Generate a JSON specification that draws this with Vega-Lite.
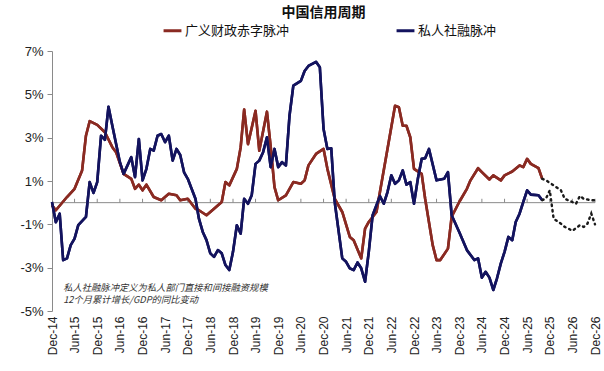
{
  "$schema": "https://vega.github.io/schema/vega-lite/v6.json",
  "width": 543,
  "height": 260,
  "autosize": "none",
  "padding": {"left": 52, "top": 51, "right": 9, "bottom": 60},
  "background": "white",
  "title": {"text": "中国信用周期", "font": "Noto Sans CJK SC", "fontSize": 14, "fontWeight": "bold", "color": "#111", "anchor": "middle", "offset": 0},
  "config": {"view": {"stroke": null}, "font": "Liberation Sans", "axis": {"labelOverlap": false}},
  "datasets": {
    "main": [
      {"d": "2014/12/01", "s": "广义财政赤字脉冲", "v": -0.12},
      {"d": "2015/01/01", "s": "广义财政赤字脉冲", "v": -0.35},
      {"d": "2015/04/01", "s": "广义财政赤字脉冲", "v": 0.26},
      {"d": "2015/06/01", "s": "广义财政赤字脉冲", "v": 0.64},
      {"d": "2015/08/01", "s": "广义财政赤字脉冲", "v": 1.49},
      {"d": "2015/09/01", "s": "广义财政赤字脉冲", "v": 3.09},
      {"d": "2015/10/01", "s": "广义财政赤字脉冲", "v": 3.76},
      {"d": "2015/12/01", "s": "广义财政赤字脉冲", "v": 3.59},
      {"d": "2016/02/01", "s": "广义财政赤字脉冲", "v": 3.25},
      {"d": "2016/04/01", "s": "广义财政赤字脉冲", "v": 2.56},
      {"d": "2016/05/01", "s": "广义财政赤字脉冲", "v": 2.33},
      {"d": "2016/07/01", "s": "广义财政赤字脉冲", "v": 1.33},
      {"d": "2016/09/01", "s": "广义财政赤字脉冲", "v": 1.10},
      {"d": "2016/10/01", "s": "广义财政赤字脉冲", "v": 0.64},
      {"d": "2016/11/01", "s": "广义财政赤字脉冲", "v": 0.83},
      {"d": "2016/12/01", "s": "广义财政赤字脉冲", "v": 0.57},
      {"d": "2017/01/01", "s": "广义财政赤字脉冲", "v": 0.83},
      {"d": "2017/03/01", "s": "广义财政赤字脉冲", "v": 0.26},
      {"d": "2017/05/01", "s": "广义财政赤字脉冲", "v": 0.11},
      {"d": "2017/07/01", "s": "广义财政赤字脉冲", "v": 0.41},
      {"d": "2017/09/01", "s": "广义财政赤字脉冲", "v": 0.34},
      {"d": "2017/10/01", "s": "广义财政赤字脉冲", "v": 0.11},
      {"d": "2017/12/01", "s": "广义财政赤字脉冲", "v": 0.18},
      {"d": "2018/02/01", "s": "广义财政赤字脉冲", "v": -0.28},
      {"d": "2018/03/01", "s": "广义财政赤字脉冲", "v": -0.35},
      {"d": "2018/05/01", "s": "广义财政赤字脉冲", "v": -0.58},
      {"d": "2018/07/01", "s": "广义财政赤字脉冲", "v": -0.28},
      {"d": "2018/09/01", "s": "广义财政赤字脉冲", "v": 0.03},
      {"d": "2018/10/01", "s": "广义财政赤字脉冲", "v": 0.95},
      {"d": "2018/11/01", "s": "广义财政赤字脉冲", "v": 0.80},
      {"d": "2019/01/01", "s": "广义财政赤字脉冲", "v": 1.56},
      {"d": "2019/02/01", "s": "广义财政赤字脉冲", "v": 2.56},
      {"d": "2019/03/01", "s": "广义财政赤字脉冲", "v": 4.30},
      {"d": "2019/04/01", "s": "广义财政赤字脉冲", "v": 2.70},
      {"d": "2019/06/01", "s": "广义财政赤字脉冲", "v": 4.24},
      {"d": "2019/07/01", "s": "广义财政赤字脉冲", "v": 2.40},
      {"d": "2019/09/01", "s": "广义财政赤字脉冲", "v": 4.20},
      {"d": "2019/10/01", "s": "广义财政赤字脉冲", "v": 2.60},
      {"d": "2019/11/01", "s": "广义财政赤字脉冲", "v": 0.72},
      {"d": "2019/12/01", "s": "广义财政赤字脉冲", "v": 0.11},
      {"d": "2020/02/01", "s": "广义财政赤字脉冲", "v": 0.34},
      {"d": "2020/04/01", "s": "广义财政赤字脉冲", "v": 0.95},
      {"d": "2020/06/01", "s": "广义财政赤字脉冲", "v": 0.87},
      {"d": "2020/07/01", "s": "广义财政赤字脉冲", "v": 1.03},
      {"d": "2020/08/01", "s": "广义财政赤字脉冲", "v": 1.72},
      {"d": "2020/10/01", "s": "广义财政赤字脉冲", "v": 2.25},
      {"d": "2020/12/01", "s": "广义财政赤字脉冲", "v": 2.48},
      {"d": "2021/01/01", "s": "广义财政赤字脉冲", "v": 1.56},
      {"d": "2021/03/01", "s": "广义财政赤字脉冲", "v": 0.18},
      {"d": "2021/05/01", "s": "广义财政赤字脉冲", "v": -0.43},
      {"d": "2021/07/01", "s": "广义财政赤字脉冲", "v": -1.58},
      {"d": "2021/08/01", "s": "广义财政赤字脉冲", "v": -1.73},
      {"d": "2021/10/01", "s": "广义财政赤字脉冲", "v": -2.57},
      {"d": "2021/11/01", "s": "广义财政赤字脉冲", "v": -1.20},
      {"d": "2021/12/01", "s": "广义财政赤字脉冲", "v": -0.89},
      {"d": "2022/02/01", "s": "广义财政赤字脉冲", "v": -0.43},
      {"d": "2022/03/01", "s": "广义财政赤字脉冲", "v": 0.49},
      {"d": "2022/05/01", "s": "广义财政赤字脉冲", "v": 2.48},
      {"d": "2022/07/01", "s": "广义财政赤字脉冲", "v": 4.47},
      {"d": "2022/08/01", "s": "广义财政赤字脉冲", "v": 4.40},
      {"d": "2022/09/01", "s": "广义财政赤字脉冲", "v": 3.55},
      {"d": "2022/10/01", "s": "广义财政赤字脉冲", "v": 3.55},
      {"d": "2022/11/01", "s": "广义财政赤字脉冲", "v": 3.02},
      {"d": "2022/12/01", "s": "广义财政赤字脉冲", "v": 1.56},
      {"d": "2023/02/01", "s": "广义财政赤字脉冲", "v": 1.33},
      {"d": "2023/03/01", "s": "广义财政赤字脉冲", "v": 0.18},
      {"d": "2023/05/01", "s": "广义财政赤字脉冲", "v": -1.96},
      {"d": "2023/06/01", "s": "广义财政赤字脉冲", "v": -2.65},
      {"d": "2023/07/01", "s": "广义财政赤字脉冲", "v": -2.65},
      {"d": "2023/09/01", "s": "广义财政赤字脉冲", "v": -2.12},
      {"d": "2023/10/01", "s": "广义财政赤字脉冲", "v": -0.65},
      {"d": "2023/12/01", "s": "广义财政赤字脉冲", "v": 0.03},
      {"d": "2024/02/01", "s": "广义财政赤字脉冲", "v": 0.64},
      {"d": "2024/03/01", "s": "广义财政赤字脉冲", "v": 1.03},
      {"d": "2024/05/01", "s": "广义财政赤字脉冲", "v": 1.59},
      {"d": "2024/06/01", "s": "广义财政赤字脉冲", "v": 1.41},
      {"d": "2024/08/01", "s": "广义财政赤字脉冲", "v": 1.07},
      {"d": "2024/09/01", "s": "广义财政赤字脉冲", "v": 1.26},
      {"d": "2024/11/01", "s": "广义财政赤字脉冲", "v": 1.03},
      {"d": "2024/12/01", "s": "广义财政赤字脉冲", "v": 1.26},
      {"d": "2025/02/01", "s": "广义财政赤字脉冲", "v": 1.44},
      {"d": "2025/04/01", "s": "广义财政赤字脉冲", "v": 1.72},
      {"d": "2025/05/01", "s": "广义财政赤字脉冲", "v": 1.64},
      {"d": "2025/06/01", "s": "广义财政赤字脉冲", "v": 2.02},
      {"d": "2025/07/01", "s": "广义财政赤字脉冲", "v": 1.79},
      {"d": "2025/09/01", "s": "广义财政赤字脉冲", "v": 1.59},
      {"d": "2025/10/01", "s": "广义财政赤字脉冲", "v": 1.10},
      {"d": "2014/12/01", "s": "私人社融脉冲", "v": 0.03},
      {"d": "2015/01/01", "s": "私人社融脉冲", "v": -0.90},
      {"d": "2015/02/01", "s": "私人社融脉冲", "v": -0.51},
      {"d": "2015/03/01", "s": "私人社融脉冲", "v": -2.65},
      {"d": "2015/04/01", "s": "私人社融脉冲", "v": -2.57},
      {"d": "2015/05/01", "s": "私人社融脉冲", "v": -1.96},
      {"d": "2015/06/01", "s": "私人社融脉冲", "v": -1.66},
      {"d": "2015/07/01", "s": "私人社融脉冲", "v": -1.04},
      {"d": "2015/09/01", "s": "私人社融脉冲", "v": -0.66},
      {"d": "2015/10/01", "s": "私人社融脉冲", "v": 0.95},
      {"d": "2015/11/01", "s": "私人社融脉冲", "v": 0.45},
      {"d": "2015/12/01", "s": "私人社融脉冲", "v": 0.95},
      {"d": "2016/01/01", "s": "私人社融脉冲", "v": 3.09},
      {"d": "2016/02/01", "s": "私人社融脉冲", "v": 2.90},
      {"d": "2016/03/01", "s": "私人社融脉冲", "v": 4.43},
      {"d": "2016/04/01", "s": "私人社融脉冲", "v": 3.55},
      {"d": "2016/06/01", "s": "私人社融脉冲", "v": 1.87},
      {"d": "2016/07/01", "s": "私人社融脉冲", "v": 1.33},
      {"d": "2016/09/01", "s": "私人社融脉冲", "v": 2.10},
      {"d": "2016/10/01", "s": "私人社融脉冲", "v": 1.18},
      {"d": "2016/11/01", "s": "私人社融脉冲", "v": 2.94},
      {"d": "2016/12/01", "s": "私人社融脉冲", "v": 1.03},
      {"d": "2017/01/01", "s": "私人社融脉冲", "v": 1.56},
      {"d": "2017/02/01", "s": "私人社融脉冲", "v": 2.48},
      {"d": "2017/03/01", "s": "私人社融脉冲", "v": 2.40},
      {"d": "2017/04/01", "s": "私人社融脉冲", "v": 3.09},
      {"d": "2017/05/01", "s": "私人社融脉冲", "v": 3.17},
      {"d": "2017/06/01", "s": "私人社融脉冲", "v": 2.79},
      {"d": "2017/07/01", "s": "私人社融脉冲", "v": 3.09},
      {"d": "2017/08/01", "s": "私人社融脉冲", "v": 1.94},
      {"d": "2017/09/01", "s": "私人社融脉冲", "v": 2.48},
      {"d": "2017/10/01", "s": "私人社融脉冲", "v": 2.20},
      {"d": "2017/11/01", "s": "私人社融脉冲", "v": 1.40},
      {"d": "2017/12/01", "s": "私人社融脉冲", "v": 1.10},
      {"d": "2018/01/01", "s": "私人社融脉冲", "v": 0.64},
      {"d": "2018/02/01", "s": "私人社融脉冲", "v": 0.18},
      {"d": "2018/03/01", "s": "私人社融脉冲", "v": -0.74},
      {"d": "2018/04/01", "s": "私人社融脉冲", "v": -1.35},
      {"d": "2018/05/01", "s": "私人社融脉冲", "v": -1.73},
      {"d": "2018/06/01", "s": "私人社融脉冲", "v": -2.34},
      {"d": "2018/07/01", "s": "私人社融脉冲", "v": -2.50},
      {"d": "2018/08/01", "s": "私人社融脉冲", "v": -2.19},
      {"d": "2018/09/01", "s": "私人社融脉冲", "v": -2.34},
      {"d": "2018/10/01", "s": "私人社融脉冲", "v": -2.88},
      {"d": "2018/11/01", "s": "私人社融脉冲", "v": -3.11},
      {"d": "2018/12/01", "s": "私人社融脉冲", "v": -2.27},
      {"d": "2019/01/01", "s": "私人社融脉冲", "v": -1.04},
      {"d": "2019/02/01", "s": "私人社融脉冲", "v": -1.43},
      {"d": "2019/03/01", "s": "私人社融脉冲", "v": 0.18},
      {"d": "2019/04/01", "s": "私人社融脉冲", "v": -0.05},
      {"d": "2019/05/01", "s": "私人社融脉冲", "v": 0.34},
      {"d": "2019/06/01", "s": "私人社融脉冲", "v": 1.79},
      {"d": "2019/07/01", "s": "私人社融脉冲", "v": 1.94},
      {"d": "2019/08/01", "s": "私人社融脉冲", "v": 2.33},
      {"d": "2019/09/01", "s": "私人社融脉冲", "v": 3.02},
      {"d": "2019/10/01", "s": "私人社融脉冲", "v": 1.64},
      {"d": "2019/11/01", "s": "私人社融脉冲", "v": 2.48},
      {"d": "2019/12/01", "s": "私人社融脉冲", "v": 1.64},
      {"d": "2020/01/01", "s": "私人社融脉冲", "v": 1.87},
      {"d": "2020/02/01", "s": "私人社融脉冲", "v": 1.72},
      {"d": "2020/03/01", "s": "私人社融脉冲", "v": 4.01},
      {"d": "2020/04/01", "s": "私人社融脉冲", "v": 5.40},
      {"d": "2020/06/01", "s": "私人社融脉冲", "v": 5.62},
      {"d": "2020/07/01", "s": "私人社融脉冲", "v": 6.08},
      {"d": "2020/08/01", "s": "私人社融脉冲", "v": 6.31},
      {"d": "2020/10/01", "s": "私人社融脉冲", "v": 6.50},
      {"d": "2020/11/01", "s": "私人社融脉冲", "v": 6.25},
      {"d": "2020/12/01", "s": "私人社融脉冲", "v": 3.40},
      {"d": "2021/01/01", "s": "私人社融脉冲", "v": 2.48},
      {"d": "2021/02/01", "s": "私人社融脉冲", "v": 2.51},
      {"d": "2021/03/01", "s": "私人社融脉冲", "v": 0.03},
      {"d": "2021/05/01", "s": "私人社融脉冲", "v": -2.57},
      {"d": "2021/06/01", "s": "私人社融脉冲", "v": -2.73},
      {"d": "2021/07/01", "s": "私人社融脉冲", "v": -3.03},
      {"d": "2021/08/01", "s": "私人社融脉冲", "v": -3.11},
      {"d": "2021/09/01", "s": "私人社融脉冲", "v": -2.76},
      {"d": "2021/10/01", "s": "私人社融脉冲", "v": -3.03},
      {"d": "2021/11/01", "s": "私人社融脉冲", "v": -3.65},
      {"d": "2021/12/01", "s": "私人社融脉冲", "v": -2.27},
      {"d": "2022/01/01", "s": "私人社融脉冲", "v": -0.58},
      {"d": "2022/02/01", "s": "私人社融脉冲", "v": -0.12},
      {"d": "2022/03/01", "s": "私人社融脉冲", "v": 0.31},
      {"d": "2022/04/01", "s": "私人社融脉冲", "v": -0.05},
      {"d": "2022/05/01", "s": "私人社融脉冲", "v": 0.49},
      {"d": "2022/06/01", "s": "私人社融脉冲", "v": 1.26},
      {"d": "2022/07/01", "s": "私人社融脉冲", "v": 0.87},
      {"d": "2022/08/01", "s": "私人社融脉冲", "v": 1.03},
      {"d": "2022/09/01", "s": "私人社融脉冲", "v": 1.49},
      {"d": "2022/10/01", "s": "私人社融脉冲", "v": 0.83},
      {"d": "2022/11/01", "s": "私人社融脉冲", "v": 0.95},
      {"d": "2022/12/01", "s": "私人社融脉冲", "v": -0.05},
      {"d": "2023/01/01", "s": "私人社融脉冲", "v": 1.10},
      {"d": "2023/02/01", "s": "私人社融脉冲", "v": 2.02},
      {"d": "2023/03/01", "s": "私人社融脉冲", "v": 2.05},
      {"d": "2023/04/01", "s": "私人社融脉冲", "v": 2.48},
      {"d": "2023/06/01", "s": "私人社融脉冲", "v": 1.03},
      {"d": "2023/08/01", "s": "私人社融脉冲", "v": 1.10},
      {"d": "2023/09/01", "s": "私人社融脉冲", "v": 1.41},
      {"d": "2023/10/01", "s": "私人社融脉冲", "v": -0.58},
      {"d": "2023/12/01", "s": "私人社融脉冲", "v": -1.35},
      {"d": "2024/02/01", "s": "私人社融脉冲", "v": -2.19},
      {"d": "2024/04/01", "s": "私人社融脉冲", "v": -2.65},
      {"d": "2024/05/01", "s": "私人社融脉冲", "v": -2.57},
      {"d": "2024/06/01", "s": "私人社融脉冲", "v": -3.46},
      {"d": "2024/07/01", "s": "私人社融脉冲", "v": -3.19},
      {"d": "2024/08/01", "s": "私人社融脉冲", "v": -3.46},
      {"d": "2024/09/01", "s": "私人社融脉冲", "v": -4.03},
      {"d": "2024/10/01", "s": "私人社融脉冲", "v": -3.49},
      {"d": "2024/11/01", "s": "私人社融脉冲", "v": -2.80},
      {"d": "2024/12/01", "s": "私人社融脉冲", "v": -2.27},
      {"d": "2025/01/01", "s": "私人社融脉冲", "v": -1.58},
      {"d": "2025/02/01", "s": "私人社融脉冲", "v": -1.73},
      {"d": "2025/03/01", "s": "私人社融脉冲", "v": -0.89},
      {"d": "2025/04/01", "s": "私人社融脉冲", "v": -0.51},
      {"d": "2025/05/01", "s": "私人社融脉冲", "v": 0.03},
      {"d": "2025/06/01", "s": "私人社融脉冲", "v": 0.57},
      {"d": "2025/07/01", "s": "私人社融脉冲", "v": 0.37},
      {"d": "2025/09/01", "s": "私人社融脉冲", "v": 0.34},
      {"d": "2025/10/01", "s": "私人社融脉冲", "v": 0.11}
    ],
    "proj": [
      {"d": "2025/10/01", "g": "fiscal", "v": 1.10},
      {"d": "2025/11/01", "g": "fiscal", "v": 1.03},
      {"d": "2026/01/01", "g": "fiscal", "v": 0.80},
      {"d": "2026/03/01", "g": "fiscal", "v": 0.57},
      {"d": "2026/04/01", "g": "fiscal", "v": 0.18},
      {"d": "2026/06/01", "g": "fiscal", "v": 0.03},
      {"d": "2026/07/01", "g": "fiscal", "v": -0.05},
      {"d": "2026/08/01", "g": "fiscal", "v": 0.31},
      {"d": "2026/09/01", "g": "fiscal", "v": 0.18},
      {"d": "2026/11/01", "g": "fiscal", "v": 0.11},
      {"d": "2026/12/01", "g": "fiscal", "v": 0.11},
      {"d": "2025/10/01", "g": "private", "v": 0.11},
      {"d": "2025/11/01", "g": "private", "v": 0.20},
      {"d": "2025/12/01", "g": "private", "v": 0.57},
      {"d": "2026/01/01", "g": "private", "v": -0.74},
      {"d": "2026/03/01", "g": "private", "v": -0.97},
      {"d": "2026/04/01", "g": "private", "v": -1.12},
      {"d": "2026/05/01", "g": "private", "v": -1.20},
      {"d": "2026/06/01", "g": "private", "v": -1.30},
      {"d": "2026/08/01", "g": "private", "v": -1.04},
      {"d": "2026/09/01", "g": "private", "v": -1.12},
      {"d": "2026/10/01", "g": "private", "v": -0.97},
      {"d": "2026/11/01", "g": "private", "v": -0.50},
      {"d": "2026/12/01", "g": "private", "v": -1.00}
    ],
    "ticks": [
      {"d": "2015/06/01"}, {"d": "2015/12/01"}, {"d": "2016/06/01"}, {"d": "2016/12/01"},
      {"d": "2017/06/01"}, {"d": "2017/12/01"}, {"d": "2018/06/01"}, {"d": "2018/12/01"},
      {"d": "2019/06/01"}, {"d": "2019/12/01"}, {"d": "2020/06/01"}, {"d": "2020/12/01"},
      {"d": "2021/06/01"}, {"d": "2021/12/01"}, {"d": "2022/06/01"}, {"d": "2022/12/01"},
      {"d": "2023/06/01"}, {"d": "2023/12/01"}, {"d": "2024/06/01"}, {"d": "2024/12/01"},
      {"d": "2025/06/01"}, {"d": "2025/12/01"}, {"d": "2026/06/01"}, {"d": "2026/12/01"}
    ]
  },
  "layer": [
    {
      "data": {"name": "main"},
      "mark": {"type": "line", "strokeWidth": 2.6, "strokeJoin": "round"},
      "encoding": {
        "x": {
          "field": "d", "type": "temporal", "title": null,
          "scale": {"domain": [{"year": 2014, "month": 12, "date": 1}, {"year": 2026, "month": 12, "date": 1}]},
          "axis": {
            "tickCount": {"interval": "month", "step": 1},
            "labelExpr": "(month(datum.value) == 5 || month(datum.value) == 11) ? timeFormat(datum.value, '%b-%y') : ''",
            "labelAngle": 270, "labelAlign": "right", "labelBaseline": "middle",
            "domain": false, "ticks": false, "grid": false, "labelPadding": 5,
            "labelFont": "Liberation Sans", "labelFontSize": 12, "labelColor": "#222",
            "labelOverlap": false, "labelFlush": false, "labelSeparation": 0
          }
        },
        "y": {
          "field": "v", "type": "quantitative", "title": null,
          "scale": {"domain": [-5, 7], "nice": false, "zero": false},
          "axis": {
            "values": [-5, -3, -1, 1, 3, 5, 7],
            "labelExpr": "datum.value + '%'",
            "grid": false, "domainColor": "#8a8a8a", "tickColor": "#8a8a8a", "tickSize": 5,
            "labelFont": "Liberation Sans", "labelFontSize": 13, "labelColor": "#222", "labelPadding": 4
          }
        },
        "color": {
          "field": "s", "type": "nominal",
          "scale": {"domain": ["广义财政赤字脉冲", "私人社融脉冲"], "range": ["#8a2a22", "#13135e"]},
          "legend": {
            "title": null, "orient": "none", "direction": "horizontal",
            "legendX": 110, "legendY": -31,
            "symbolType": "stroke", "symbolStrokeWidth": 3, "symbolSize": 320,
            "labelFont": "Noto Sans CJK SC", "labelFontSize": 13, "labelColor": "#111",
            "columnPadding": 100, "labelOffset": 2
          }
        }
      }
    },
    {
      "data": {"values": [{}]},
      "mark": {"type": "rule", "color": "#8a8a8a", "strokeWidth": 1},
      "encoding": {"y": {"datum": 0, "type": "quantitative"}}
    },
    {
      "data": {"name": "ticks"},
      "mark": {"type": "rule", "color": "#8a8a8a", "strokeWidth": 1},
      "encoding": {
        "x": {"field": "d", "type": "temporal", "title": null},
        "y": {"datum": 0, "type": "quantitative"},
        "y2": {"datum": 0.18}
      }
    },
    {
      "data": {"name": "main"},
      "mark": {"type": "line", "strokeWidth": 2.6, "strokeJoin": "round"},
      "encoding": {
        "x": {"field": "d", "type": "temporal", "title": null},
        "y": {"field": "v", "type": "quantitative", "title": null},
        "color": {"field": "s", "type": "nominal"}
      }
    },
    {
      "data": {"name": "proj"},
      "mark": {"type": "line", "strokeWidth": 2.4, "strokeDash": [1.5, 4], "strokeCap": "round", "color": "#1a1a1a"},
      "encoding": {
        "x": {"field": "d", "type": "temporal", "title": null},
        "y": {"field": "v", "type": "quantitative", "title": null},
        "detail": {"field": "g", "type": "nominal"}
      }
    },
    {
      "data": {"values": [{}]},
      "mark": {"type": "text", "align": "left", "baseline": "top", "font": "Noto Sans CJK SC", "fontSize": 9.3, "fontStyle": "italic", "color": "#333", "lineHeight": 12.5},
      "encoding": {
        "x": {"datum": {"year": 2015, "month": 3, "date": 1}, "type": "temporal"},
        "y": {"datum": -3.75, "type": "quantitative"},
        "text": {"value": ["私人社融脉冲定义为私人部门直接和间接融资规模", "12个月累计增长/GDP的同比变动"]}
      }
    }
  ]
}
